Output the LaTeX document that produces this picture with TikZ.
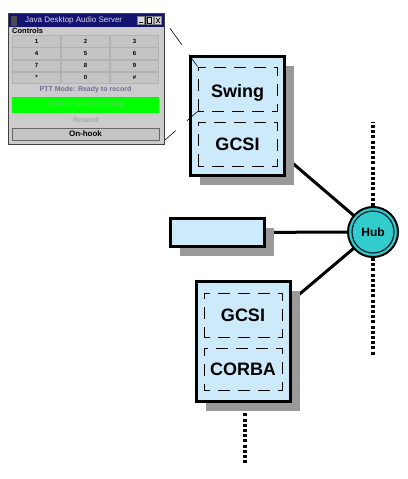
\documentclass[tikz,border=0pt]{standalone}
\usepackage{fontspec}
\setmainfont{Liberation Sans}
\usetikzlibrary{shadows,calc,backgrounds}
\definecolor{boxblue}{RGB}{204,234,250}
\definecolor{hubteal}{RGB}{51,204,204}
\definecolor{hubring}{RGB}{10,40,60}
\definecolor{shgray}{RGB}{153,153,153}
\definecolor{wingray}{RGB}{204,204,204}
\definecolor{btngray}{RGB}{196,196,196}
\definecolor{titlenavy}{RGB}{20,20,112}
\definecolor{titletext}{RGB}{215,215,235}
\definecolor{pttblue}{RGB}{110,110,150}
\definecolor{brightgreen}{RGB}{0,255,0}
\definecolor{fadegreen}{RGB}{70,225,70}
\begin{document}
\begin{tikzpicture}[x=1pt,y=-1pt,
  compbox/.style={draw=black, line width=3pt, fill=boxblue, inner sep=0pt,
    drop shadow={shadow xshift=9pt, shadow yshift=-9pt, fill=shgray, opacity=1}},
  layerbox/.style={draw=black, line width=0.8pt, dash pattern=on 12pt off 8pt, dash phase=6pt,
    inner sep=0pt, text height=13pt, text depth=0pt,
    font=\fontsize{18}{20}\selectfont\bfseries},
  hubnode/.style={circle, draw=black, line width=2pt, fill=hubteal, minimum size=50pt,
    inner sep=0pt, font=\fontsize{12}{13}\selectfont\bfseries},
  link/.style={line width=3pt},
  dotline/.style={line width=4pt, dash pattern=on 3pt off 2.2pt},
  zoomline/.style={line width=0.6pt},
  keybtn/.style={rectangle, draw=black!30, line width=0.6pt, fill=btngray,
    minimum width=48pt, minimum height=11.5pt, inner sep=0pt,
    font=\fontsize{6}{7}\selectfont\bfseries},
  wintext/.style={inner sep=0pt, font=\fontsize{7}{8}\selectfont\bfseries},
  tbtn/.style={rectangle, draw=black!50, line width=0.4pt, fill=black!15,
    minimum width=7pt, minimum height=8pt, inner sep=0pt}
]
\useasboundingbox (0,0) rectangle (407,479);

% ---------- component boxes ----------
\node[compbox, minimum width=94pt, minimum height=119pt] (client) at (237.5,116) {};
\node[layerbox, minimum width=79pt, minimum height=44pt] (swing) at (237.5,89) {\raisebox{-2pt}{Swing}};
\node[layerbox, minimum width=79pt, minimum height=44pt] (gcsiA) at (237.5,144) {GCSI};

\node[compbox, minimum width=94pt, minimum height=28pt] (other) at (217.5,232.5) {};

\node[compbox, minimum width=94pt, minimum height=120pt] (server) at (243.5,341.5) {};
\node[layerbox, minimum width=78pt, minimum height=44pt] (gcsiB) at (243,315) {GCSI};
\node[layerbox, minimum width=78pt, minimum height=42pt] (corba) at (243,369) {CORBA};

% ---------- hub ----------
\node[hubnode] (hub) at (373,232) {Hub};
\draw[hubring, line width=1.3pt] (hub.center) circle (21pt);

\coordinate (netTop) at (373,122);
\coordinate (netBot) at (373,356);
\coordinate (srvEnd) at (245,465);
\coordinate (srvTop) at (245,403);

% ---------- connectors (behind) ----------
\begin{scope}[on background layer]
  \fill[white] (0,0) rectangle (407,479);
  \draw[link] (client.center) -- (hub.center);
  \draw[link] (other.center) -- (hub.center);
  \draw[link] (server.center) -- (hub.center);
  \draw[dotline] (hub.center) -- (netTop);
  \draw[dotline] (hub.center) -- (netBot);
  \draw[dotline] (srvTop) -- (srvEnd);
\end{scope}

% ---------- screenshot window ----------
\fill[black!75] (8,13) rectangle (164.5,144.5);
\fill[wingray] (9,14) rectangle (163.5,143.5);
\fill[titlenavy] (9,14) rectangle (163.5,27);
\fill[black!70] (10.5,15.5) rectangle (17,25.5);
\node[anchor=west, inner sep=0pt, text=titletext, font=\fontsize{8}{9}\selectfont] (wtitle) at (25,20.5) {Java Desktop Audio Server};
\node[tbtn] (tmin) at (141,20.5) {};
\node[tbtn] (tmax) at (149.5,20.5) {};
\node[tbtn] (tclose) at (158,20.5) {};
\draw[black, line width=0.9pt] ($(tmin.south west)+(1.5,-1.8)$) -- ($(tmin.south east)+(-1.5,-1.8)$);
\draw[black, line width=0.7pt] ($(tmax.south west)+(1.5,-1.5)$) rectangle ($(tmax.north east)+(-1.5,1.5)$);
\draw[black, line width=0.7pt] ($(tclose.south west)+(1.8,-1.8)$) -- ($(tclose.north east)+(-1.8,1.8)$);
\draw[black, line width=0.7pt] ($(tclose.north west)+(1.8,1.8)$) -- ($(tclose.south east)+(-1.8,-1.8)$);

\node[anchor=west, inner sep=0pt, font=\fontsize{7.5}{8}\selectfont\bfseries] (wmenu) at (12,31) {Controls};

\foreach \lab [count=\i from 0] in {1,2,3,4,5,6,7,8,9,*,0,\#} {
  \pgfmathtruncatemacro\row{\i/3}
  \pgfmathtruncatemacro\col{mod(\i,3)}
  \node[keybtn] (key\i) at (36.5+49*\col, 41.1+12.25*\row) {\lab};
}

\node[wintext, text=pttblue] (ptt) at (85.5,90) {PTT Mode: Ready to record};
\fill[brightgreen] (12,97) rectangle (159,113);
\node[wintext, text=fadegreen] (talk) at (85.5,105) {Push to start recording};
\node[wintext, text=black!35] (resend) at (85.5,120) {Resend};
\node[keybtn, minimum width=147pt, minimum height=12pt, draw=black!60,
      font=\fontsize{8}{9}\selectfont\bfseries] (onhook) at (85.5,134) {On-hook};

% ---------- zoom projection lines ----------
\coordinate (zA) at (164,20);
\coordinate (zB) at (165,140);
\draw[zoomline] ($(zA)!0.18!(swing.north west)$) -- ($(zA)!0.53!(swing.north west)$);
\draw[zoomline] ($(zA)!0.74!(swing.north west)$) -- (swing.north west);
\draw[zoomline] (zB) -- ($(zB)!0.33!(swing.south west)$);
\draw[zoomline] ($(zB)!0.67!(swing.south west)$) -- (swing.south west);
\end{tikzpicture}
\end{document}
